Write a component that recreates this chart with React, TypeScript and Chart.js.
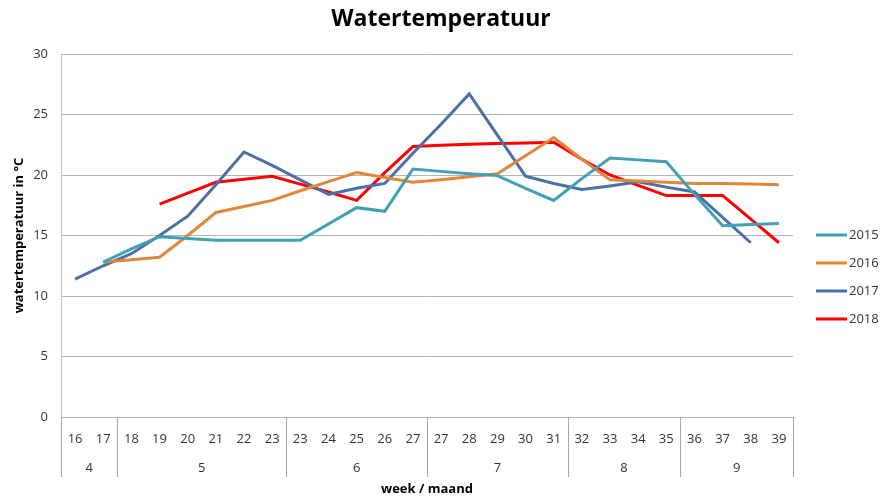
import React, { useEffect, useRef } from "react";
import { Chart, registerables } from "chart.js";

Chart.register(...registerables);

const weeks = ["16","17","18","19","20","21","22","23","23","24","25","26","27","27","28","29","30","31","32","33","34","35","36","37","38","39"];
const months = ["4", "5", "6", "7", "8", "9"];
const monthSpans = [2, 6, 5, 5, 4, 4];

const years = ["2015", "2016", "2017", "2018"];
const temp2015 = [null, 12.8, 13.9, 14.9, 14.75, 14.6, 14.6, 14.6, 14.6, 15.95, 17.3, 17.0, 20.5, 20.3, 20.1, 19.95, 18.9, 17.9, 19.7, 21.4, 21.25, 21.1, 18.4, 15.8, 15.9, 16.0];
const temp2016 = [null, 12.8, 13.0, 13.2, 15.0, 16.9, 17.4, 17.9, 18.7, 19.45, 20.2, 19.8, 19.4, 19.6, 19.85, 20.1, 21.6, 23.1, 21.3, 19.6, 19.5, 19.4, 19.3, 19.3, 19.25, 19.2];
const temp2017 = [11.4, 12.5, 13.5, 15.0, 16.6, 19.2, 21.9, 20.8, 19.6, 18.4, 18.9, 19.3, 21.8, 24.2, 26.7, 23.3, 19.9, 19.3, 18.8, 19.1, 19.45, 19.0, 18.6, 16.5, 14.4, null];
const temp2018 = [null, null, null, 17.6, 18.5, 19.4, 19.65, 19.9, 19.25, 18.6, 17.9, 20.2, 22.35, 22.45, 22.55, 22.6, 22.65, 22.7, 21.3, 20.0, 19.15, 18.3, 18.3, 18.3, 16.35, 14.4];

const colors = ["#41A0B4", "#E2863A", "#4A70A6", "#FF0000"];
const FONT = "'Open Sans', 'DejaVu Sans', sans-serif";

const groupPlugin = {
  id: "monthGroups",
  afterDraw(chart: any) {
    const { ctx, chartArea } = chart;
    const xs = chart.scales.x;
    const bottom = chartArea.bottom;
    ctx.save();
    ctx.strokeStyle = "#A6A6A6";
    ctx.lineWidth = 1;
    const boundaries: number[] = [chartArea.left];
    let idx = 0;
    ctx.fillStyle = "#333333";
    ctx.font = `13px ${FONT}`;
    ctx.textAlign = "center";
    ctx.textBaseline = "middle";
    monthSpans.forEach((span, g) => {
      const first = xs.getPixelForValue(idx);
      const last = xs.getPixelForValue(idx + span - 1);
      ctx.fillText(months[g], (first + last) / 2, bottom + 51);
      idx += span;
      if (idx < weeks.length) {
        boundaries.push((last + xs.getPixelForValue(idx)) / 2);
      }
    });
    boundaries.push(chartArea.right);
    boundaries.forEach((bx) => {
      const x = Math.round(bx) + 0.5;
      ctx.beginPath();
      ctx.moveTo(x, bottom);
      ctx.lineTo(x, bottom + 60);
      ctx.stroke();
    });

    // legend
    const lx = chartArea.right + 23;
    const ly = chartArea.top + 181;
    chart.data.datasets.forEach((ds: any, i: number) => {
      const y = ly + i * 28;
      ctx.strokeStyle = ds.borderColor;
      ctx.lineWidth = 3;
      ctx.beginPath();
      ctx.moveTo(lx, y);
      ctx.lineTo(lx + 31, y);
      ctx.stroke();
      ctx.fillStyle = "#333333";
      ctx.textAlign = "left";
      ctx.fillText(ds.label, lx + 33, y);
    });
    ctx.restore();
  },
};

export default function App() {
  const ref = useRef<HTMLCanvasElement>(null);
  useEffect(() => {
    if (!ref.current) return;
    const series = [temp2015, temp2016, temp2017, temp2018];
    const chart = new Chart(ref.current, {
      type: "line",
      data: {
        labels: weeks,
        datasets: series.map((d, i) => ({
          label: years[i],
          data: d,
          borderColor: colors[i],
          backgroundColor: colors[i],
          borderWidth: 3,
          pointRadius: 0,
          tension: 0,
          spanGaps: false,
        })),
      },
      options: {
        animation: false,
        responsive: false,
        layout: { padding: { left: 0, right: 11, top: 0, bottom: 0 } },
        plugins: {
          legend: { display: false },
          tooltip: { enabled: false },
          title: {
            display: true,
            text: "Watertemperatuur",
            color: "#000000",
            font: { family: FONT, size: 23, weight: "bold", lineHeight: 1 },
            padding: { top: 0, bottom: 23 },
          },
        },
        scales: {
          x: {
            type: "category",
            offset: true,
            grid: { display: false },
            border: { display: false },
            ticks: {
              autoSkip: false,
              maxRotation: 0,
              color: "#333333",
              font: { family: FONT, size: 13 },
              padding: 6,
            },
            title: {
              display: true,
              text: "week / maand",
              color: "#000000",
              font: { family: FONT, size: 13, weight: "bold" },
              padding: { top: 0, bottom: 0 },
            },
            afterFit: (s: any) => { s.height = 80; },
          },
          y: {
            min: 0,
            max: 30,
            ticks: {
              stepSize: 5,
              color: "#333333",
              font: { family: FONT, size: 13 },
              padding: 13,
            },
            grid: { color: "#B4B4B4", drawTicks: false, lineWidth: 1 },
            border: { display: true, color: "#C4C4C4" },
            title: {
              display: true,
              text: "watertemperatuur in °C",
              color: "#000000",
              font: { family: FONT, size: 13, weight: "bold" },
              padding: { top: 3, bottom: 0 },
            },
            afterFit: (s: any) => { s.width = 53; },
          },
          legendSpace: {
            position: "right",
            min: 0,
            max: 30,
            ticks: { display: false },
            grid: { display: false, drawTicks: false },
            border: { display: false },
            afterFit: (s: any) => { s.width = 81; },
          },
        },
      },
      plugins: [groupPlugin],
    });
    return () => chart.destroy();
  }, []);
  return <canvas ref={ref} width={877} height={489} style={{ display: "block" }} />;
}
